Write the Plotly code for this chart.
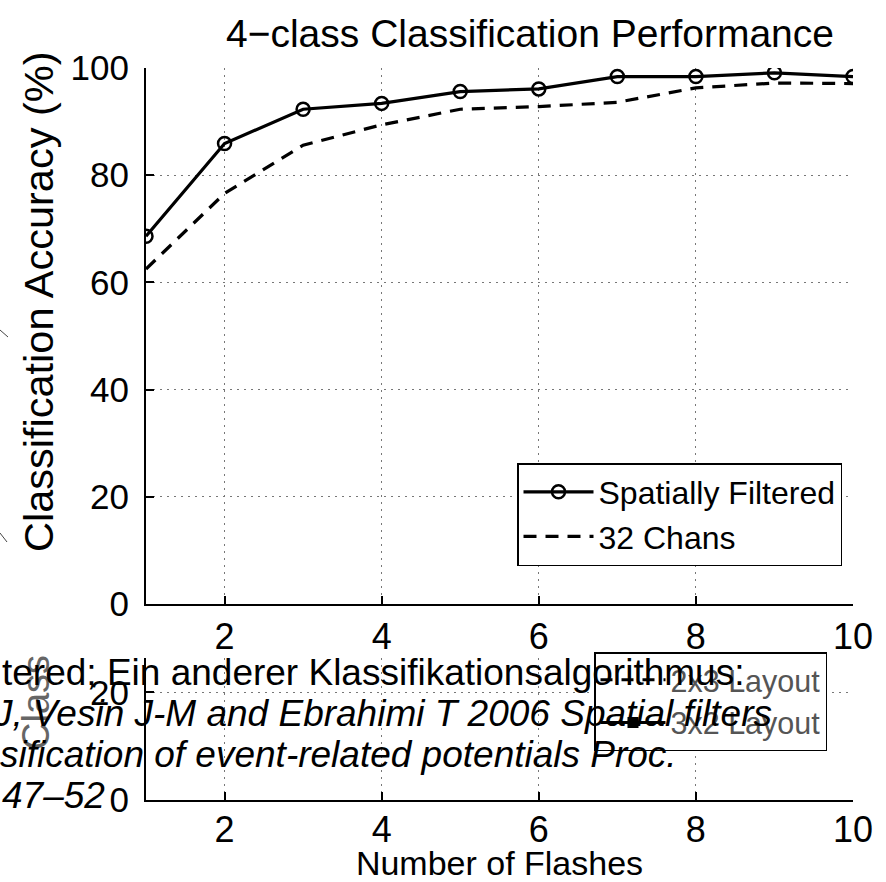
import plotly.graph_objects as go

# ---------------- data ----------------
flashes = [1, 2, 3, 4, 5, 6, 7, 8, 9, 10]
spatially_filtered = [68.6, 85.9, 92.3, 93.4, 95.6, 96.1, 98.4, 98.4, 99.1, 98.4]
chans_32 = [62.5, 76.6, 85.6, 89.4, 92.3, 92.8, 93.6, 96.3, 97.2, 97.1]
series_names = ["Spatially Filtered", "32 Chans"]
lower_series_names = ["2x3 Layout", "3x2 Layout"]
y_ticks = [0, 20, 40, 60, 80, 100]
x_ticks = [2, 4, 6, 8, 10]
lower_y_ticks = [0, 20]
title_text = "4\u2212class Classification Performance"
y_title = "Classification Accuracy (%)"
x_title = "Number of Flashes"
overlay_lines = [
    ("tered; Ein anderer Klassifikationsalgorithmus:", "normal"),
    ("J, Vesin J-M and Ebrahimi T 2006 Spatial filters", "italic"),
    ("sification of event-related potentials Proc.", "italic"),
    ("47\u201352", "italic"),
]

W, H = 886, 882
FONT = "Liberation Sans, Arial, sans-serif"


def px(x):
    return x / W


def py(y):
    return 1 - y / H


fig = go.Figure()

# top chart
fig.add_trace(go.Scatter(
    x=flashes, y=spatially_filtered, name=series_names[0], mode="lines+markers",
    line=dict(color="black", width=3.2),
    marker=dict(symbol="circle-open", size=13, color="black", line=dict(width=2.5)),
    xaxis="x", yaxis="y", legend="legend"))
fig.add_trace(go.Scatter(
    x=flashes, y=chans_32, name=series_names[1], mode="lines",
    line=dict(color="black", width=3.2, dash="13px,9px"),
    xaxis="x", yaxis="y", legend="legend"))

# lower (mostly hidden) chart: only its legend entries are visible
fig.add_trace(go.Scatter(
    x=[None], y=[None], name=lower_series_names[0], mode="lines",
    line=dict(color="black", width=3, dash="12px,9px"),
    xaxis="x2", yaxis="y2", legend="legend2"))
fig.add_trace(go.Scatter(
    x=[None], y=[None], name=lower_series_names[1], mode="lines+markers",
    line=dict(color="black", width=3),
    marker=dict(symbol="square", size=11, color="black"),
    xaxis="x2", yaxis="y2", legend="legend2"))

axis_common = dict(
    showline=True, linecolor="black", linewidth=2,
    ticks="inside", ticklen=8, tickwidth=1.5, tickcolor="black",
    showgrid=True, gridcolor="#777", gridwidth=1, griddash="2px,5px",
    zeroline=False, mirror=False, automargin=False,
)
xfont = dict(family=FONT, size=36, color="black")
yfont = dict(family=FONT, size=35, color="black")

top_x_dom = [px(146), px(853)]
fig.update_layout(
    width=W, height=H,
    margin=dict(l=0, r=0, t=0, b=0, autoexpand=False),
    paper_bgcolor="white", plot_bgcolor="white",
    font=dict(family=FONT, color="black"),
    xaxis=dict(domain=top_x_dom, range=[1, 10], tickvals=x_ticks, anchor="y",
               tickfont=xfont, ticklabelstandoff=0, **axis_common),
    yaxis=dict(domain=[py(604), py(68)], range=[0, 100], tickvals=y_ticks, anchor="x",
               tickfont=yfont, ticklabelstandoff=8, **axis_common),
    xaxis2=dict(domain=top_x_dom, range=[1, 10], tickvals=x_ticks, anchor="y2",
                tickfont=xfont, ticklabelstandoff=-3,
                title=dict(text=x_title, font=dict(family=FONT, size=34), standoff=10),
                **axis_common),
    yaxis2=dict(domain=[py(800), py(658)], range=[0, 142 / 5.38], tickvals=lower_y_ticks,
                anchor="x2", tickfont=yfont, ticklabelstandoff=8, **axis_common),
    title=dict(text=title_text, x=px(530), y=py(33), xanchor="center", yanchor="middle",
               font=dict(family=FONT, size=39, color="black")),
    legend=dict(x=px(517), y=py(463), xanchor="left", yanchor="top",
                bgcolor="white", bordercolor="black", borderwidth=1.5,
                font=dict(family=FONT, size=32, color="black"), itemwidth=70,
                tracegroupgap=0),
    legend2=dict(x=px(594), y=py(652), xanchor="left", yanchor="top",
                 bgcolor="white", bordercolor="black", borderwidth=1.5,
                 font=dict(family=FONT, size=30.5, color="#555"), itemwidth=65,
                 tracegroupgap=0),
    showlegend=True,
)

# y-axis title of the top chart (placed as in the reference, slightly above centre)
fig.add_annotation(text=y_title, textangle=-90, x=px(38), y=py(302), xref="paper", yref="paper",
                   xanchor="center", yanchor="middle", showarrow=False,
                   font=dict(family=FONT, size=41.5, color="black"))

# fragment of the hidden lower chart's y title
fig.add_annotation(text="Class", textangle=-90, x=px(36), y=py(703), xref="paper", yref="paper",
                   xanchor="center", yanchor="middle",
                   showarrow=False, font=dict(family=FONT, size=38, color="#666"))

# overlaid paragraph text
line_y = [672, 713, 754, 795]
line_x = [0, -9, -2, 0]
for (txt, style), yy, xx in zip(overlay_lines, line_y, line_x):
    fig.add_annotation(text=txt, x=px(xx), y=py(yy), xref="paper", yref="paper",
                       xanchor="left", yanchor="middle", showarrow=False,
                       font=dict(family=FONT, size=37, color="black", style=style))

# small stray marks at the left edge
for (x0, y0, x1, y1) in [(0, 330, 8, 337), (0, 533, 7, 542)]:
    fig.add_shape(type="line", xref="paper", yref="paper", x0=px(x0), y0=py(y0),
                  x1=px(x1), y1=py(y1), line=dict(color="#444", width=1))

fig.write_html("out.html")
